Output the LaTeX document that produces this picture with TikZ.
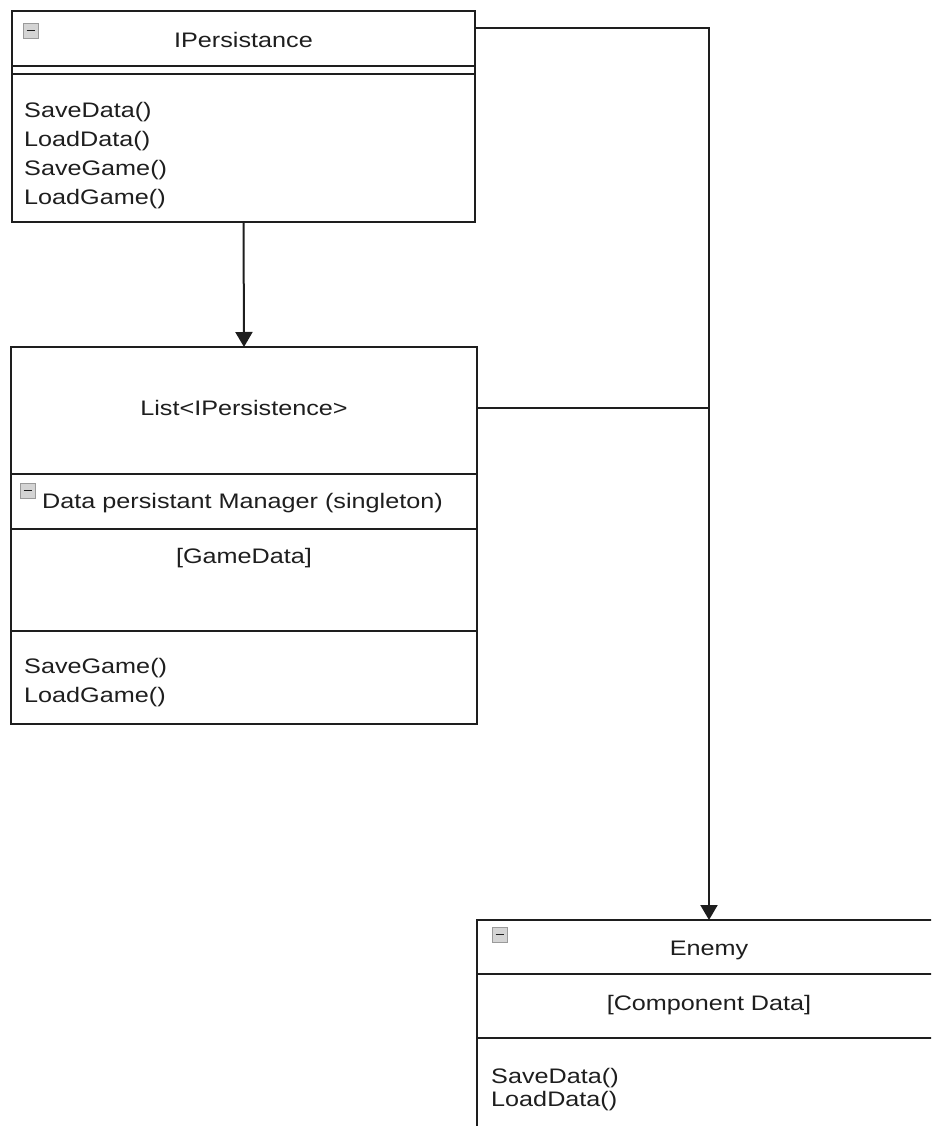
\documentclass[tikz,border=0pt]{standalone}
\usepackage{fontspec}
\setmainfont{Liberation Sans}[FakeStretch=1.2]
\usetikzlibrary{calc,arrows.meta}

\definecolor{ink}{HTML}{1E1E1E}
\definecolor{iconfill}{HTML}{D4D4D4}
\definecolor{iconedge}{HTML}{9A9A9A}

\tikzset{
  umlbox/.style={draw=ink, line width=2pt, fill=white, anchor=north west,
    inner sep=0pt, outer sep=0pt},
  sep/.style={draw=ink, line width=1.9pt},
  lbl/.style={inner sep=0pt, text=ink, font=\fontsize{21}{26}\selectfont},
  conn/.style={draw=ink, line width=2pt},
  arrowconn/.style={conn, -{Triangle[width=17pt,length=15pt]}},
  collapse/.style={draw=iconedge, fill=iconfill, line width=0.9pt}
}

% a small "collapse" toggle: grey square with a dash
\newcommand{\collapseicon}[2]{%
  \draw[collapse] (#1,#2) rectangle ++(15,15);
  \draw[ink, line width=1.8pt] (#1+3.5,#2+7.5) -- ++(8,0);
}

\begin{document}
\begin{tikzpicture}[x=1pt,y=-1pt]
  \useasboundingbox (0,0) rectangle (931,1126);
  \clip (0,0) rectangle (931,1126);

  % ---- IPersistance interface ----
  \node[umlbox, minimum width=463pt, minimum height=211pt] (ip) at (12,11) {};
  \draw[sep] (12,66) -- (475,66);
  \draw[sep] (12,74) -- (475,74);
  \collapseicon{23}{23}
  \node[lbl] (iptitle) at (243.5,40) {IPersistance};
  \node[lbl, anchor=west] (ipm1) at (24,112) {SaveData()};
  \node[lbl, anchor=west] (ipm2) at (24,141) {LoadData()};
  \node[lbl, anchor=west] (ipm3) at (24,170) {SaveGame()};
  \node[lbl, anchor=west] (ipm4) at (24,199) {LoadGame()};

  % ---- Data persistant Manager ----
  \node[umlbox, minimum width=466pt, minimum height=377pt] (mgr) at (11,347) {};
  \draw[sep] (11,474) -- (477,474);
  \draw[sep] (11,529) -- (477,529);
  \draw[sep] (11,631) -- (477,631);
  \node[lbl] (list) at (244,408) {List<IPersistence>};
  \collapseicon{20}{483}
  \node[lbl, anchor=west] (mgrtitle) at (42,503) {Data persistant Manager (singleton)};
  \node[lbl] (gamedata) at (244,558) {[GameData]};
  \node[lbl, anchor=west] (mgrm1) at (24,668) {SaveGame()};
  \node[lbl, anchor=west] (mgrm2) at (24,697) {LoadGame()};

  % ---- Enemy ----
  \node[umlbox, minimum width=464pt, minimum height=240pt] (en) at (477,920) {};
  \draw[sep] (477,974) -- (945,974);
  \draw[sep] (477,1038) -- (945,1038);
  \collapseicon{492}{927}
  \node[lbl] (entitle) at (709,950) {Enemy};
  \node[lbl] (comp) at (709,1005) {[Component Data]};
  \node[lbl, anchor=west] (enm1) at (491,1078) {SaveData()};
  \node[lbl, anchor=west] (enm2) at (491,1101) {LoadData()};

  % ---- connectors ----
  \draw[arrowconn] (ip.south) -- (mgr.north);
  \draw[arrowconn] ($(ip.north east)+(0,17)$) -| (en.north);
  \draw[conn] (list -| mgr.east) -- (list -| en.north);
\end{tikzpicture}
\end{document}
